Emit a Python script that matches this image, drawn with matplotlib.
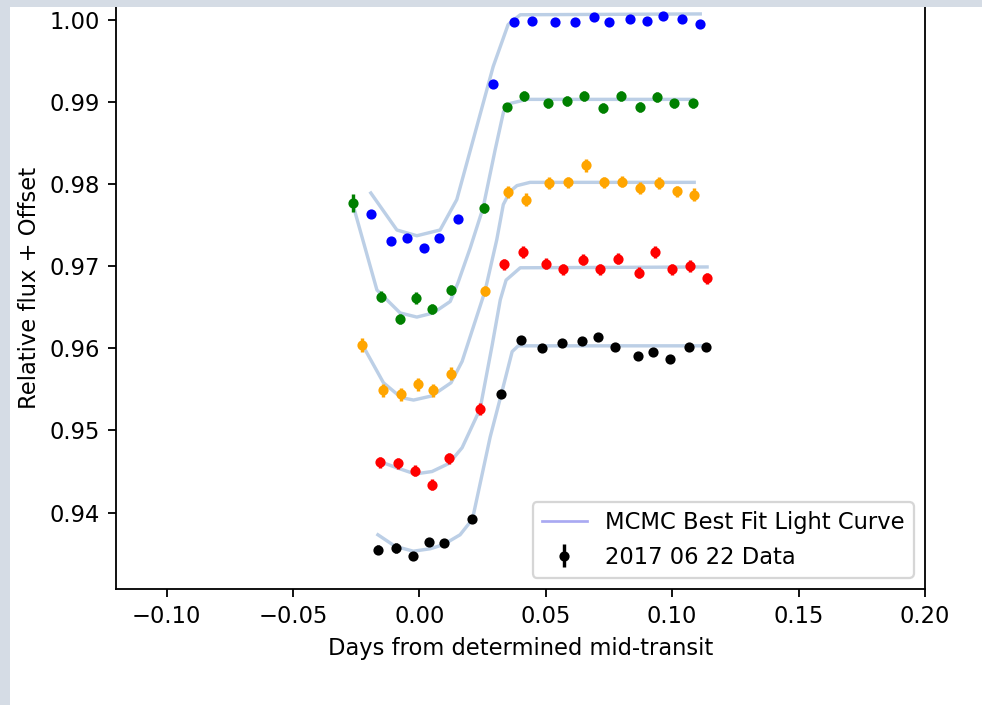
import matplotlib
matplotlib.use("Agg")
import matplotlib.pyplot as plt
from matplotlib.lines import Line2D
from matplotlib.patches import Rectangle

# ---- data ----
blue_t = [-0.0192, -0.0113, -0.0048, 0.0019, 0.0079, 0.0151, 0.0291, 0.0376, 0.0447,
          0.0538, 0.0616, 0.0689, 0.0752, 0.0834, 0.0900, 0.0963, 0.1040, 0.1111]
blue_f = [0.9763, 0.9730, 0.9734, 0.9722, 0.9734, 0.9757, 0.9922, 0.9997, 0.9999,
          0.9997, 0.9997, 1.0003, 0.9997, 1.0001, 0.9999, 1.0004, 1.0001, 0.9995]
blue_e = [0.0003] * 18

green_t = [-0.0263, -0.0151, -0.0076, -0.0013, 0.0049, 0.0125, 0.0254, 0.0346, 0.0415,
           0.0507, 0.0584, 0.0653, 0.0726, 0.0797, 0.0874, 0.0940, 0.1009, 0.1081]
green_f = [0.9777, 0.9663, 0.9636, 0.9661, 0.9648, 0.9671, 0.9771, 0.9894, 0.9907,
           0.9898, 0.9901, 0.9907, 0.9893, 0.9907, 0.9894, 0.9906, 0.9898, 0.9898]
green_e = [0.0011, 0.0007, 0.0006, 0.0007, 0.0006, 0.0006, 0.0006, 0.0005, 0.0006,
           0.0005, 0.0006, 0.0006, 0.0006, 0.0006, 0.0006, 0.0006, 0.0005, 0.0006]

orange_t = [-0.0225, -0.0142, -0.0072, -0.0006, 0.0053, 0.0125, 0.0260, 0.0352, 0.0423,
            0.0511, 0.0586, 0.0660, 0.0731, 0.0801, 0.0874, 0.0946, 0.1019, 0.1087]
orange_f = [0.9604, 0.9549, 0.9544, 0.9556, 0.9549, 0.9569, 0.9670, 0.9790, 0.9781,
            0.9801, 0.9802, 0.9823, 0.9802, 0.9803, 0.9795, 0.9801, 0.9791, 0.9787]
orange_e = [0.0008, 0.0008, 0.0008, 0.0008, 0.0008, 0.0008, 0.0006, 0.0007, 0.0008,
            0.0007, 0.0007, 0.0008, 0.0007, 0.0007, 0.0007, 0.0007, 0.0007, 0.0008]

red_t = [-0.0155, -0.0083, -0.0017, 0.0049, 0.0118, 0.0241, 0.0335, 0.0408, 0.0500,
         0.0570, 0.0649, 0.0713, 0.0784, 0.0867, 0.0933, 0.1001, 0.1072, 0.1138]
red_f = [0.9461, 0.9460, 0.9451, 0.9434, 0.9466, 0.9526, 0.9702, 0.9717, 0.9703,
         0.9696, 0.9708, 0.9696, 0.9709, 0.9692, 0.9717, 0.9696, 0.9700, 0.9685]
red_e = [0.0007] * 18

black_t = [-0.0164, -0.0093, -0.0024, 0.0040, 0.0099, 0.0210, 0.0324, 0.0402, 0.0485,
           0.0564, 0.0643, 0.0705, 0.0775, 0.0863, 0.0924, 0.0992, 0.1065, 0.1134]
black_f = [0.9355, 0.9357, 0.9347, 0.9364, 0.9363, 0.9392, 0.9544, 0.9610, 0.9600,
           0.9606, 0.9609, 0.9614, 0.9602, 0.9591, 0.9596, 0.9587, 0.9601, 0.9601]
black_e = [0.0006, 0.0006, 0.0005, 0.0005, 0.0005, 0.0004, 0.0004, 0.0004, 0.0004,
           0.0004, 0.0004, 0.0004, 0.0004, 0.0004, 0.0004, 0.0004, 0.0004, 0.0004]

# best-fit model curves
blue_mt = [-0.0192, -0.0089, -0.0010, 0.0082, 0.0148, 0.0213, 0.0292, 0.0351, 0.0399, 0.1111]
blue_mf = [0.9789, 0.9744, 0.9737, 0.9744, 0.9781, 0.9854, 0.9943, 0.9994, 1.0006, 1.0007]

green_mt = [-0.0263, -0.0168, -0.0076, -0.0010, 0.0055, 0.0122, 0.0153, 0.0201, 0.0252,
            0.0300, 0.0333, 0.0359, 0.0426, 0.1081]
green_mf = [0.9775, 0.9671, 0.9643, 0.9638, 0.9643, 0.9657, 0.9680, 0.9722, 0.9771,
            0.9842, 0.9888, 0.9898, 0.9903, 0.9903]

orange_mt = [-0.0225, -0.0142, -0.0072, -0.0023, 0.0049, 0.0125, 0.0169, 0.0260, 0.0306,
             0.0332, 0.0359, 0.0386, 0.0438, 0.1087]
orange_mf = [0.9604, 0.9558, 0.9540, 0.9537, 0.9542, 0.9558, 0.9584, 0.9670, 0.9732,
             0.9775, 0.9791, 0.9798, 0.9802, 0.9802]

red_mt = [-0.0155, -0.0084, -0.0017, 0.0050, 0.0118, 0.0169, 0.0240, 0.0288, 0.0320,
          0.0343, 0.0399, 0.1138]
red_mf = [0.9462, 0.9454, 0.9447, 0.9450, 0.9460, 0.9479, 0.9526, 0.9604, 0.9659,
          0.9683, 0.9698, 0.9699]

black_mt = [-0.0164, -0.0096, -0.0024, 0.0043, 0.0095, 0.0161, 0.0210, 0.0280, 0.0324,
            0.0367, 0.0391, 0.1134]
black_mf = [0.9373, 0.9359, 0.9353, 0.9356, 0.9361, 0.9373, 0.9392, 0.9492, 0.9544,
            0.9596, 0.9603, 0.9603]

series = [
    (blue_t, blue_f, blue_e, blue_mt, blue_mf, "blue"),
    (green_t, green_f, green_e, green_mt, green_mf, "green"),
    (orange_t, orange_f, orange_e, orange_mt, orange_mf, "orange"),
    (red_t, red_f, red_e, red_mt, red_mf, "red"),
    (black_t, black_f, black_e, black_mt, black_mf, "black"),
]

xticks = [-0.10, -0.05, 0.00, 0.05, 0.10, 0.15, 0.20]
yticks = [0.94, 0.95, 0.96, 0.97, 0.98, 0.99, 1.00]

# ---- figure ----
DPI = 163
fig = plt.figure(figsize=(982 / DPI, 705 / DPI), dpi=DPI, facecolor="white")
ax = fig.add_axes([116 / 982, 116 / 705, 809 / 982, 603 / 705])

model_color = "#bccfe6"
for t, f, e, mt, mf, c in series:
    ax.plot(mt, mf, color=model_color, lw=1.5, zorder=1)
    ax.errorbar(t, f, yerr=e, fmt="o", color=c, ms=3.5, elinewidth=1.5, capsize=0, zorder=2)

ax.set_xlim(-0.12, 0.20)
ax.set_ylim(0.9307, 1.0041)
ax.set_xticks(xticks)
ax.set_yticks(yticks)
ax.set_xlabel("Days from determined mid-transit")
ax.set_ylabel("Relative flux + Offset")

h_line = Line2D([], [], color="#a9a9f2", lw=1.2)
h_err = ax.errorbar([], [], yerr=[], fmt="o", color="black", ms=3.5, elinewidth=1.5, capsize=0)
ax.legend([h_line, h_err], ["MCMC Best Fit Light Curve", "2017 06 22 Data"], loc="lower right")

# page background bands of the screenshot
band = "#d5dce5"
fig.add_artist(Rectangle((0, 0), 10 / 982, 1, transform=fig.transFigure,
                         facecolor=band, edgecolor="none", zorder=10))
fig.add_artist(Rectangle((0, 1 - 7 / 705), 1, 7 / 705, transform=fig.transFigure,
                         facecolor=band, edgecolor="none", zorder=10))

fig.savefig("out.png", dpi=DPI, facecolor="white")
